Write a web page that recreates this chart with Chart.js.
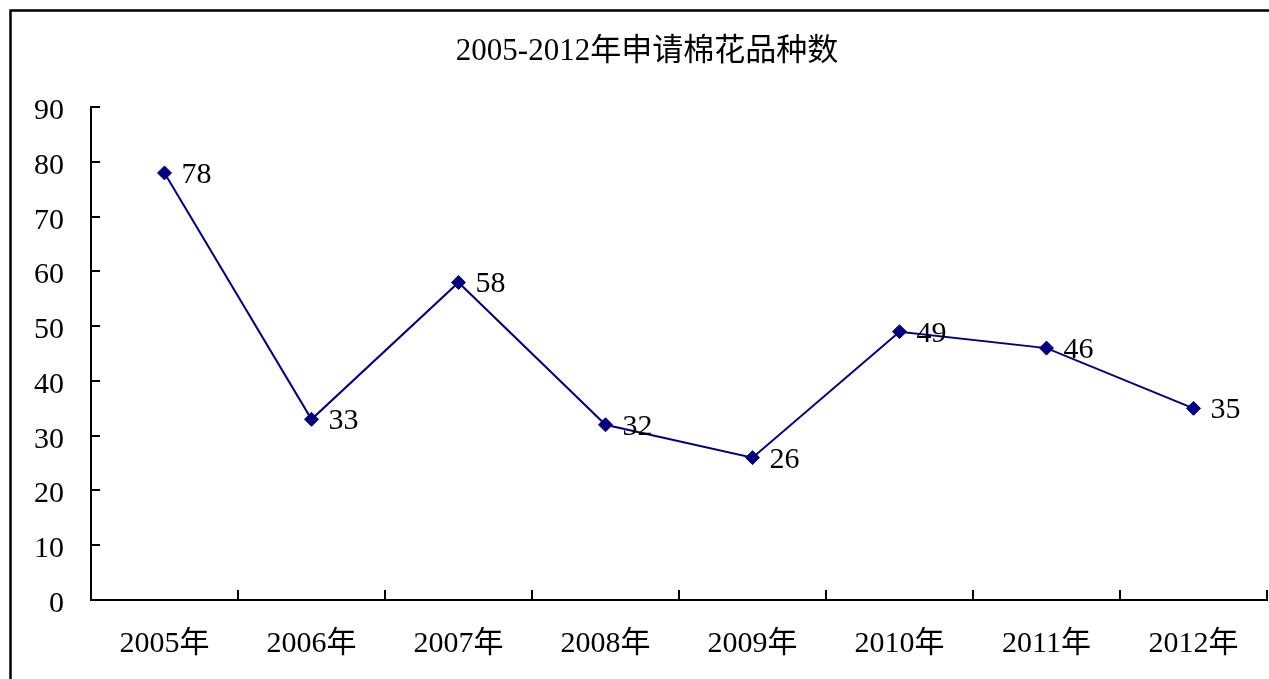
<!DOCTYPE html>
<html>
<head>
<meta charset="utf-8">
<script src="https://cdn.jsdelivr.net/npm/chart.js@4"></script>
<style>
    body { margin: 0; background: #fff; }
    #graph { display: block; }
</style>
</head>
<body>
<canvas id="graph" width="1269" height="679"></canvas>
<script>
var years = ['2005年', '2006年', '2007年', '2008年', '2009年', '2010年', '2011年', '2012年'];
var pocty = [78, 33, 58, 32, 26, 49, 46, 35];
var titleText = '2005-2012年申请棉花品种数';

var pismo = '"Liberation Serif", "Noto Sans CJK SC", serif';

// ramcek vlavo a hore, ticky dovnutra, popisky bodov
var extras = {
    id: 'extras',
    afterDraw: function (chart) {
        var ctx = chart.ctx;
        var x = chart.scales.x, y = chart.scales.y;
        var a = chart.chartArea;
        ctx.save();
        ctx.strokeStyle = '#000';
        ctx.lineWidth = 2.5;
        ctx.beginPath();
        ctx.moveTo(10.5, 679);
        ctx.lineTo(10.5, 10.5);
        ctx.lineTo(1269, 10.5);
        ctx.stroke();

        ctx.lineWidth = 2;
        ctx.beginPath();
        y.ticks.forEach(function (t) {
            var py = Math.round(y.getPixelForValue(t.value));
            ctx.moveTo(a.left, py);
            ctx.lineTo(a.left + 9, py);
        });
        for (var i = 0; i <= years.length; i++) {
            var px = Math.round(x.getPixelForValue(i - 0.5));
            ctx.moveTo(px, a.bottom);
            ctx.lineTo(px, a.bottom - 10);
        }
        ctx.stroke();
        ctx.restore();
    },
    afterDatasetsDraw: function (chart) {
        var ctx = chart.ctx;
        var meta = chart.getDatasetMeta(0);
        ctx.save();
        ctx.font = '30px ' + pismo;
        ctx.fillStyle = '#000';
        ctx.textAlign = 'left';
        ctx.textBaseline = 'middle';
        meta.data.forEach(function (p, i) {
            ctx.fillText(pocty[i], p.x + 17, p.y + 2);
        });
        ctx.restore();
    }
};

var myChart = document.getElementById('graph').getContext('2d');
Chart.defaults.color = '#000';
Chart.defaults.font.family = pismo;

var lineChart = new Chart(myChart, {
    type: 'line',
    data: {
        labels: years,
        datasets: [{
            data: pocty,
            borderColor: '#000080',
            borderWidth: 2,
            fill: false,
            tension: 0,
            pointStyle: 'rectRot',
            pointRadius: 7,
            pointHoverRadius: 7,
            pointBackgroundColor: '#000080',
            pointBorderColor: '#000080',
            pointBorderWidth: 1,
        }],
    },
    options: {
        responsive: false,
        animation: false,
        events: [],
        layout: {
            autoPadding: false,
            padding: { left: 27, right: 2, top: 0, bottom: 0 }
        },
        plugins: {
            legend: { display: false },
            tooltip: { enabled: false },
            title: {
                display: true,
                text: titleText,
                color: '#000',
                font: { size: 31, weight: 'normal', family: pismo, lineHeight: 1.2 },
                padding: { top: 33, bottom: 37 }
            }
        },
        scales: {
            x: {
                offset: true,
                grid: { display: false, drawTicks: false },
                border: { display: true, color: '#000', width: 2 },
                ticks: { padding: 26, font: { size: 30 }, maxRotation: 0 },
                afterFit: function (s) { s.height = 79; }
            },
            y: {
                min: 0,
                max: 90,
                grid: { display: false, drawTicks: false },
                border: { display: true, color: '#000', width: 2 },
                ticks: { stepSize: 10, padding: 27, labelOffset: 4, font: { size: 30 } },
                afterFit: function (s) { s.width = 64; }
            }
        }
    },
    plugins: [extras]
});
</script>
</body>
</html>
